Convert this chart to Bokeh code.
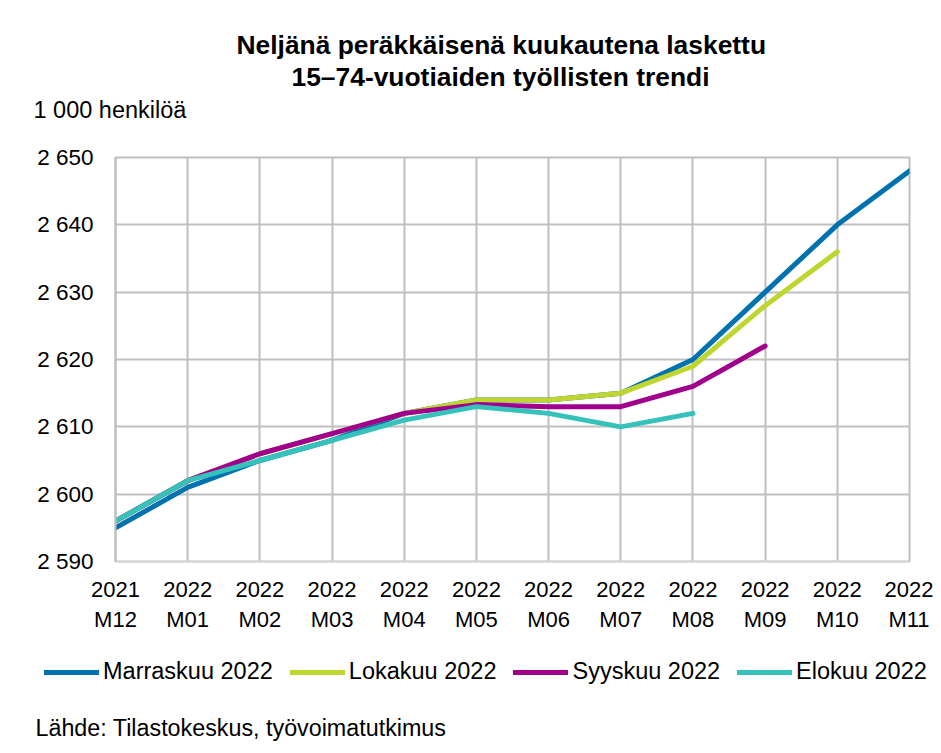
from bokeh.plotting import figure
from bokeh.models import Range1d, FixedTicker, Legend, LegendItem, Title, Label
from bokeh.embed import file_html
from bokeh.resources import INLINE

months = ["2021\nM12", "2022\nM01", "2022\nM02", "2022\nM03", "2022\nM04", "2022\nM05",
          "2022\nM06", "2022\nM07", "2022\nM08", "2022\nM09", "2022\nM10", "2022\nM11"]
marraskuu = [2595, 2601, 2605, 2608, 2612, 2614, 2614, 2615, 2620, 2630, 2640, 2648]
lokakuu = [2596, 2602, 2606, 2609, 2612, 2614, 2614, 2615, 2619, 2628, 2636]
syyskuu = [2596, 2602, 2606, 2609, 2612, 2613.3, 2613, 2613, 2616, 2622]
elokuu = [2596, 2602, 2605, 2608, 2611, 2613, 2612, 2610, 2612]
series_names = ["Marraskuu 2022", "Lokakuu 2022", "Syyskuu 2022", "Elokuu 2022"]
colors = ["#0072B0", "#BED62F", "#A0008C", "#36C2BA"]
y_ticks = [2590, 2600, 2610, 2620, 2630, 2640, 2650]
y_labels = ["2 590", "2 600", "2 610", "2 620", "2 630", "2 640", "2 650"]

FONT = "Liberation Sans"
W = 933
H_MAIN = 640
H_FOOT = 112
all_series = [marraskuu, lokakuu, syyskuu, elokuu]

p = figure(width=W, height=H_MAIN, output_backend="svg", toolbar_location=None,
           x_range=Range1d(0, 11), y_range=Range1d(2590, 2650),
           min_border_left=115, min_border_right=W - 909, min_border_top=157,
           min_border_bottom=H_MAIN - 561)
p.background_fill_color = "white"
p.border_fill_color = "white"
p.outline_line_color = "#BFBFBF"
p.outline_line_width = 2

p.xaxis.ticker = FixedTicker(ticks=list(range(12)))
p.xaxis.major_label_overrides = {i: m for i, m in enumerate(months)}
p.yaxis.ticker = FixedTicker(ticks=y_ticks)
p.yaxis.major_label_overrides = {t: l for t, l in zip(y_ticks, y_labels)}
for ax in (p.xaxis, p.yaxis):
    ax.major_label_text_font = FONT
    ax.major_label_text_color = "#000000"
    ax.major_tick_line_color = None
    ax.minor_tick_line_color = None
    ax.major_tick_out = 0
    ax.major_tick_in = 0
    ax.minor_tick_out = 0
p.xaxis.major_label_text_font_size = "22px"
p.yaxis.major_label_text_font_size = "22.5px"
p.xaxis.axis_line_color = "#D9D9D9"
p.xaxis.axis_line_width = 2
p.yaxis.axis_line_color = "#BFBFBF"
p.yaxis.axis_line_width = 2
p.xaxis.major_label_standoff = 15
p.yaxis.major_label_standoff = 22
p.xgrid.ticker = FixedTicker(ticks=list(range(12)))
p.ygrid.ticker = FixedTicker(ticks=y_ticks)
p.xgrid.grid_line_color = "#BFBFBF"
p.ygrid.grid_line_color = "#BFBFBF"
p.xgrid.grid_line_width = 2
p.ygrid.grid_line_width = 2

for vals, col in zip(all_series, colors):
    p.line(list(range(len(vals))), vals, line_color=col, line_width=5,
           line_cap="round", line_join="round")

# titles above (first added = closest to plot)
p.add_layout(Title(text=" ", text_font_size="1px", standoff=29), "above")
p.add_layout(Title(text="1 000 henkilöä", align="left", offset=-82,
                   text_font=FONT, text_font_size="23.5px", text_font_style="normal",
                   text_color="#000000", standoff=6), "above")
p.add_layout(Title(text="15–74-vuotiaiden työllisten trendi", align="left", offset=176,
                   text_font=FONT, text_font_size="26.4px", text_font_style="bold",
                   text_color="#000000", standoff=0), "above")
p.add_layout(Title(text="Neljänä peräkkäisenä kuukautena laskettu", align="left", offset=121,
                   text_font=FONT, text_font_size="26.4px", text_font_style="bold",
                   text_color="#000000", standoff=0), "above")

# footer figure: legend and source (series drawn off-range, only their legend shows)
q = figure(width=W, height=H_FOOT, output_backend="svg", toolbar_location=None,
           x_range=Range1d(0, W), y_range=Range1d(0, H_FOOT),
           min_border=0, min_border_left=0, min_border_right=0,
           min_border_top=0, min_border_bottom=0,
           x_axis_location=None, y_axis_location=None)
q.xgrid.visible = False
q.ygrid.visible = False
q.outline_line_color = None
q.background_fill_color = "white"
q.border_fill_color = "white"

items = []
for name, vals, col in zip(series_names, all_series, colors):
    r = q.line(list(range(len(vals))), vals, line_color=col, line_width=5, line_cap="round")
    items.append(LegendItem(label=name, renderers=[r]))

legend = Legend(items=items, orientation="horizontal", location=(44, 67),
                label_text_font=FONT, label_text_font_size="23.5px", label_text_color="#000000",
                glyph_width=55, glyph_height=12, label_standoff=4, spacing=17,
                padding=0, margin=0, border_line_color=None, background_fill_alpha=0)
q.add_layout(legend, "center")

q.add_layout(Label(x=35, y=25, text="Lähde: Tilastokeskus, työvoimatutkimus",
                   text_font=FONT, text_font_size="23.3px", text_color="#000000",
                   text_align="left", text_baseline="middle"))

open("out.html", "w").write(file_html([p, q], INLINE))
